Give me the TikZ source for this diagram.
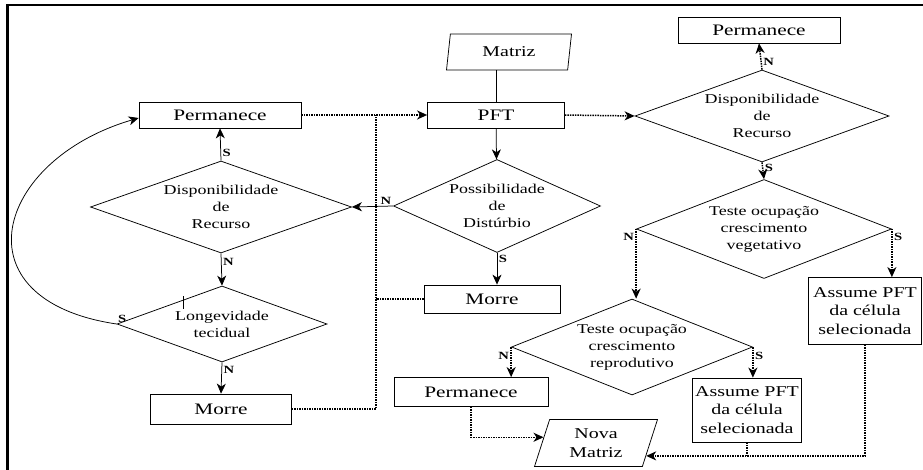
\documentclass[tikz,border=0pt]{standalone}
\usepackage{fontspec}
\setmainfont{Liberation Serif}[FakeStretch=1.33]
\usetikzlibrary{arrows.meta,calc,shapes.geometric}

\begin{document}
\begin{tikzpicture}[x=1pt,y=-1pt,>={Stealth[length=10pt,width=9pt,inset=3pt]},line width=0.75pt,
  box/.style={draw,inner sep=1pt,align=center,font=\fontsize{16}{18.5}\selectfont},
  dec/.style={draw,diamond,inner sep=0pt,align=center,font=\fontsize{13.5}{17}\selectfont},
  io/.style={draw,trapezium,trapezium stretches body,inner sep=0pt,align=center,font=\fontsize{15}{18.5}\selectfont},
  dot/.style={line width=1.5pt,dash pattern=on 1.5pt off 1pt},
  lab/.style={inner sep=1.5pt,font=\fontsize{11}{11}\selectfont\bfseries}]
\useasboundingbox (0,0) rectangle (923,470);
\draw[line width=2.5pt] (7.5,472) -- (7.5,5) -- (925,5);
% left branch: disturbance answered N
\node[box,minimum width=162pt,minimum height=26pt] (permL) at (220,115) {Permanece};
\node[dec,shape aspect=2.84,minimum width=261pt,minimum height=92pt] (dispL) at (221,207) {Disponibilidade\\de\\Recurso};
\node[dec,shape aspect=2.76,minimum width=210pt,minimum height=76pt] (longL) at (222,324) {Longevidade\\tecidual};
\node[box,minimum width=141pt,minimum height=30pt] (morreL) at (221,409) {Morre};
% middle column
\node[io,trapezium left angle=69,trapezium right angle=111,minimum width=125pt,minimum height=36pt] (matriz) at (509,52) {Matriz};
\node[box,minimum width=137pt,minimum height=26pt] (pft) at (496,115) {PFT};
\node[dec,shape aspect=2.23,minimum width=207pt,minimum height=93pt] (poss) at (497,206) {Possibilidade\\de\\Distúrbio};
\node[box,minimum width=136pt,minimum height=28pt] (morreM) at (492,299) {Morre};
% right branch: occupation tests
\node[box,minimum width=162pt,minimum height=26pt] (permT) at (759,30) {Permanece};
\node[dec,shape aspect=2.76,minimum width=254pt,minimum height=92pt] (dispR) at (762,116) {Disponibilidade\\de\\Recurso};
\node[dec,shape aspect=2.58,minimum width=255pt,minimum height=99pt] (veg) at (764,229) {Teste ocupação\\crescimento\\vegetativo};
\node[dec,shape aspect=2.51,minimum width=241pt,minimum height=96pt] (rep) at (632,347) {Teste ocupação\\crescimento\\reprodutivo};
\node[box,minimum width=154pt,minimum height=29pt] (permB) at (471,392) {Permanece};
\node[box,font=\fontsize{15}{18.5}\selectfont,minimum width=109pt,minimum height=64pt] (assA) at (747,410) {Assume PFT\\da célula\\selecionada};
\node[box,font=\fontsize{15}{18.5}\selectfont,minimum width=113pt,minimum height=67pt] (assB) at (865,311) {Assume PFT\\da célula\\selecionada};
\node[io,trapezium left angle=62,trapezium right angle=118,minimum width=123pt,minimum height=47pt] (nova) at (596,443) {Nova\\Matriz};

% solid connectors
\draw (pft.north) -- (pft.north |- matriz.south);
\draw[->] (pft) -- (poss);
\draw[->] (poss.west) node[lab,anchor=south east] (nA) {N} -- (dispL.east);
\draw[->] (poss.south) -- (poss.south |- morreM.north) node[lab,pos=0.2,right] (sA) {S};
\draw[->] (dispL.north) -- (permL.south) node[lab,pos=0.25,right] (sB) {S};
\draw[->] (dispL.south) -- (longL.north) node[lab,pos=0.25,right] (nB) {N};
\draw[->] (longL.south) -- (morreL.north) node[lab,pos=0.25,right] (nC) {N};
\draw[->] (longL.west) node[lab,anchor=south west,inner sep=1pt] (sC) {S}
  .. controls (-45,300) and (-5,160) .. ([yshift=-3pt]permL.west);
\draw (183,296) -- (183,309);

% dotted connectors
\coordinate (jn) at (376,115);
\draw[dot,->] (permL.east) -- (pft.west);
\draw[dot,->] (pft.east) -- (dispR.west);
\draw[dot] (morreL.east) -| (jn);
\draw[dot] (morreM.west) -- (morreM.west -| jn);
\draw[dot,->] (dispR.north) -- (permT.south) node[lab,pos=0.3,right] (nD) {N};
\draw[dot,->] (dispR.south) -- (veg.north) node[lab,pos=0.35,right] (sD) {S};
\draw[dot,->] (veg.west) -- (veg.west |- rep.north) node[lab,pos=0.12,left] (nE) {N};
\draw[dot,->] (veg.east) -- (veg.east |- assB.north) node[lab,pos=0.16,right] (sE) {S};
\draw[dot,->] (rep.west) -- (rep.west |- permB.north) node[lab,pos=0.3,left] (nF) {N};
\draw[dot,->] (rep.east) -- (rep.east |- assA.north) node[lab,pos=0.3,right] (sF) {S};
\coordinate (nvL) at ($(nova.top left corner)!0.38!(nova.bottom left corner)$);
\coordinate (nvR) at ($(nova.top right corner)!0.77!(nova.bottom right corner)$);
\draw[dot,->] (permB.south) |- (nvL);
\draw[dot,->] (assB.south) |- (nvR);
\draw[dot] (assA.south) -- (assA.south |- nvR);
\end{tikzpicture}
\end{document}
